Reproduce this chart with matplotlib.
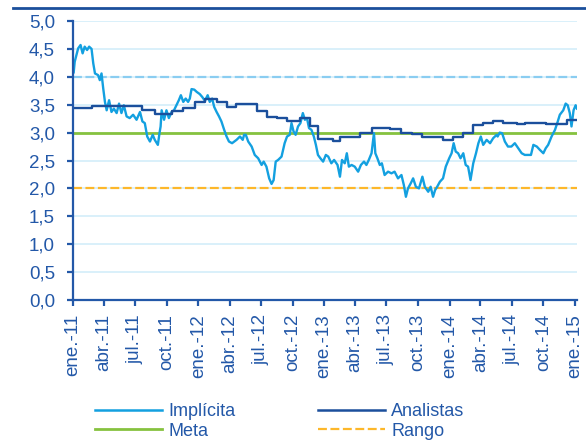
import matplotlib
matplotlib.use("Agg")
import matplotlib.pyplot as plt
import matplotlib.dates as mdates
from matplotlib.lines import Line2D
import pandas as pd

plt.rcParams['font.family'] = ['Liberation Sans', 'DejaVu Sans']

# ---------------- data ----------------
impl_dates = [
    "2011-01-03", "2011-01-06", "2011-01-16", "2011-01-23", "2011-01-29", "2011-02-04", "2011-02-11",
    "2011-02-17", "2011-02-24", "2011-03-01", "2011-03-06", "2011-03-15", "2011-03-20", "2011-03-25",
    "2011-03-30", "2011-04-04", "2011-04-09", "2011-04-16", "2011-04-23", "2011-04-30", "2011-05-08",
    "2011-05-15", "2011-05-22", "2011-05-29", "2011-06-06", "2011-06-15", "2011-06-25", "2011-07-05",
    "2011-07-15", "2011-07-22", "2011-07-29", "2011-08-05", "2011-08-13", "2011-08-21", "2011-08-27",
    "2011-09-05", "2011-09-10", "2011-09-13", "2011-09-16", "2011-09-23", "2011-09-30", "2011-10-07",
    "2011-10-15", "2011-10-22", "2011-10-29", "2011-11-05", "2011-11-11", "2011-11-18", "2011-11-25",
    "2011-12-02", "2011-12-07", "2011-12-12", "2011-12-20", "2011-12-27", "2012-01-05", "2012-01-12",
    "2012-01-20", "2012-01-28", "2012-02-03", "2012-02-10", "2012-02-16", "2012-02-23", "2012-03-01",
    "2012-03-08", "2012-03-16", "2012-03-23", "2012-03-30", "2012-04-08", "2012-04-21", "2012-05-01",
    "2012-05-09", "2012-05-13", "2012-05-18", "2012-05-25", "2012-06-04", "2012-06-13", "2012-06-23",
    "2012-07-03", "2012-07-09", "2012-07-17", "2012-07-25", "2012-08-01", "2012-08-07", "2012-08-13",
    "2012-08-20", "2012-08-30", "2012-09-08", "2012-09-15", "2012-09-23", "2012-09-28", "2012-10-04",
    "2012-10-10", "2012-10-17", "2012-10-24", "2012-10-31", "2012-11-06", "2012-11-12", "2012-11-18",
    "2012-11-25", "2012-12-02", "2012-12-08", "2012-12-14", "2012-12-21", "2012-12-29", "2013-01-06",
    "2013-01-13", "2013-01-22", "2013-01-30", "2013-02-09", "2013-02-16", "2013-02-22", "2013-03-02",
    "2013-03-08", "2013-03-14", "2013-03-22", "2013-03-31", "2013-04-10", "2013-04-18", "2013-04-27",
    "2013-05-04", "2013-05-11", "2013-05-19", "2013-05-26", "2013-05-30", "2013-06-05", "2013-06-12",
    "2013-06-18", "2013-06-26", "2013-07-06", "2013-07-16", "2013-07-25", "2013-08-04", "2013-08-14",
    "2013-08-21", "2013-08-27", "2013-09-02", "2013-09-10", "2013-09-17", "2013-09-25", "2013-10-04",
    "2013-10-14", "2013-10-21", "2013-10-31", "2013-11-07", "2013-11-14", "2013-11-20", "2013-11-26",
    "2013-12-04", "2013-12-13", "2013-12-21", "2013-12-31", "2014-01-07", "2014-01-13", "2014-01-19",
    "2014-01-26", "2014-02-02", "2014-02-10", "2014-02-17", "2014-02-24", "2014-03-03", "2014-03-11",
    "2014-03-19", "2014-03-26", "2014-04-02", "2014-04-09", "2014-04-19", "2014-04-29", "2014-05-08",
    "2014-05-18", "2014-05-21", "2014-05-27", "2014-06-03", "2014-06-11", "2014-06-20", "2014-06-30",
    "2014-07-10", "2014-07-20", "2014-07-30", "2014-08-08", "2014-08-18", "2014-08-26", "2014-09-02",
    "2014-09-12", "2014-09-21", "2014-10-01", "2014-10-08", "2014-10-15", "2014-10-25", "2014-11-04",
    "2014-11-12", "2014-11-18", "2014-11-28", "2014-12-05", "2014-12-11", "2014-12-17", "2014-12-22",
    "2014-12-28", "2015-01-03", "2015-01-07",
]
impl_values = [
    4.08, 4.27, 4.51, 4.57, 4.42, 4.54, 4.48,
    4.54, 4.50, 4.24, 4.06, 4.03, 3.94, 4.06,
    3.79, 3.55, 3.40, 3.58, 3.37, 3.43, 3.35,
    3.52, 3.35, 3.49, 3.29, 3.26, 3.32, 3.23,
    3.37, 3.20, 3.17, 2.93, 2.84, 2.96, 2.87,
    2.78, 3.00, 3.11, 3.40, 3.23, 3.40, 3.26,
    3.37, 3.40, 3.49, 3.58, 3.67, 3.55, 3.61,
    3.55, 3.61, 3.78, 3.77, 3.73, 3.69, 3.64,
    3.57, 3.67, 3.55, 3.61, 3.46, 3.37, 3.29,
    3.20, 3.05, 2.93, 2.84, 2.81, 2.87, 2.93,
    2.87, 2.96, 2.96, 2.84, 2.75, 2.60, 2.54,
    2.42, 2.48, 2.39, 2.18, 2.08, 2.15, 2.48,
    2.51, 2.57, 2.81, 2.93, 2.96, 3.17, 3.02,
    2.96, 3.11, 3.17, 3.35, 3.23, 3.26, 3.08,
    3.05, 2.93, 2.78, 2.60, 2.54, 2.48, 2.60,
    2.57, 2.45, 2.51, 2.42, 2.21, 2.51, 2.45,
    2.63, 2.39, 2.42, 2.39, 2.30, 2.42, 2.48,
    2.42, 2.51, 2.63, 2.99, 2.63, 2.54, 2.42,
    2.45, 2.24, 2.30, 2.27, 2.30, 2.18, 2.24,
    2.06, 1.85, 2.00, 2.09, 2.18, 2.03, 2.00,
    2.21, 2.03, 1.94, 2.03, 1.85, 1.97, 2.03,
    2.12, 2.18, 2.39, 2.54, 2.63, 2.81, 2.66,
    2.63, 2.54, 2.63, 2.42, 2.39, 2.15, 2.45,
    2.63, 2.81, 2.93, 2.78, 2.87, 2.81, 2.90,
    2.96, 2.93, 3.00, 2.99, 2.84, 2.75, 2.75,
    2.81, 2.72, 2.63, 2.60, 2.60, 2.60, 2.78,
    2.75, 2.69, 2.63, 2.72, 2.78, 2.93, 3.05,
    3.20, 3.32, 3.40, 3.52, 3.49, 3.35, 3.11,
    3.40, 3.49, 3.43,
]

anal_dates = [
    "2011-01-01", "2011-02-25", "2011-07-20", "2011-08-28", "2011-10-16", "2011-11-17",
    "2011-12-22", "2012-01-20", "2012-02-24", "2012-03-24", "2012-04-19", "2012-06-19",
    "2012-07-19", "2012-08-17", "2012-09-15", "2012-10-23", "2012-11-21", "2012-12-14",
    "2013-01-27", "2013-02-16", "2013-04-15", "2013-05-19", "2013-07-11", "2013-08-14",
    "2013-09-13", "2013-10-12", "2013-12-14", "2014-01-12", "2014-02-10", "2014-03-11",
    "2014-04-09", "2014-05-08", "2014-06-06", "2014-07-15", "2014-08-08", "2014-10-10",
    "2014-12-08", "2015-01-07",
]
anal_values = [
    3.44, 3.48, 3.41, 3.33, 3.38, 3.44,
    3.55, 3.61, 3.55, 3.46, 3.52, 3.39,
    3.28, 3.26, 3.21, 3.26, 3.12, 2.88,
    2.85, 2.92, 3.00, 3.09, 3.06, 3.00,
    2.97, 2.93, 2.86, 2.92, 3.00, 3.14,
    3.18, 3.20, 3.17, 3.16, 3.17, 3.15,
    3.22, 3.22,
]

meta_value = 3.0
rango_low = 2.0
rango_high = 4.0

tick_dates = ["2011-01-01", "2011-04-01", "2011-07-01", "2011-10-01",
              "2012-01-01", "2012-04-01", "2012-07-01", "2012-10-01",
              "2013-01-01", "2013-04-01", "2013-07-01", "2013-10-01",
              "2014-01-01", "2014-04-01", "2014-07-01", "2014-10-01",
              "2015-01-01"]
tick_labels = ["ene.-11", "abr.-11", "jul.-11", "oct.-11",
               "ene.-12", "abr.-12", "jul.-12", "oct.-12",
               "ene.-13", "abr.-13", "jul.-13", "oct.-13",
               "ene.-14", "abr.-14", "jul.-14", "oct.-14",
               "ene.-15"]
y_ticks = [0.0, 0.5, 1.0, 1.5, 2.0, 2.5, 3.0, 3.5, 4.0, 4.5, 5.0]
x_start = "2011-01-01"
x_end = "2015-01-07"

# ---------------- style ----------------
C_IMPL = "#13A0E0"
C_ANAL = "#1B4F9C"
C_META = "#86C23F"
C_RANGO = "#FDB72A"
C_RHIGH = "#8ACDF1"
C_GRID = "#D3EDFA"
C_AXIS = "#2358A8"

fig = plt.figure(figsize=(5.86, 4.41), dpi=100)
ax = fig.add_axes([73/586, 1-300/441, (577-73)/586, (300-21)/441])

idates = pd.to_datetime(impl_dates)
adates = pd.to_datetime(anal_dates)

for yv in y_ticks[1:]:
    ax.axhline(yv, color=C_GRID, lw=1.2, zorder=1)

ax.axhline(rango_high, color=C_RHIGH, lw=1.6, ls=(0, (4, 1.6)), zorder=2)
ax.axhline(rango_low, color=C_RANGO, lw=1.6, ls=(0, (4, 1.6)), zorder=2)
ax.axhline(meta_value, color=C_META, lw=2.0, zorder=2)

ax.plot(idates, impl_values, color=C_IMPL, lw=1.7, zorder=3)
ax.plot(adates, anal_values, color=C_ANAL, lw=1.7, drawstyle='steps-post', zorder=4)

ax.set_xlim(pd.Timestamp(x_start), pd.Timestamp(x_end))
ax.set_ylim(0, 5)

ax.set_xticks(pd.to_datetime(tick_dates))
ax.set_xticklabels(tick_labels, rotation=90, fontsize=13.5, color=C_AXIS)
ax.set_yticks(y_ticks)
ax.set_yticklabels([f"{v:.1f}".replace('.', ',') for v in y_ticks], fontsize=13.5, color=C_AXIS)

for s in ['top', 'right']:
    ax.spines[s].set_visible(False)
for s in ['left', 'bottom']:
    ax.spines[s].set_color(C_AXIS)
    ax.spines[s].set_linewidth(1.6)
    ax.spines[s].set_zorder(5)
ax.tick_params(axis='x', direction='out', length=4, width=1.6, color=C_AXIS, pad=6)
ax.tick_params(axis='y', direction='out', length=4, width=1.6, color=C_AXIS, pad=9)

# decorative top rule
fig.add_artist(Line2D([13/586, 1.0], [1-8/441, 1-8/441], transform=fig.transFigure,
                      color=C_ANAL, lw=2.0))

handles = [
    Line2D([], [], color=C_IMPL, lw=1.8),
    Line2D([], [], color=C_META, lw=2.0),
    Line2D([], [], color=C_ANAL, lw=1.8),
    Line2D([], [], color=C_RANGO, lw=1.6, ls=(0, (4, 1.6))),
]
labels = ["Implícita", "Meta", "Analistas", "Rango"]
leg = fig.legend(handles, labels, ncol=2, loc='upper left',
                 bbox_to_anchor=(95/586, 1-403/441), bbox_transform=fig.transFigure,
                 frameon=False, fontsize=13, handlelength=3.7, handletextpad=0.35,
                 columnspacing=4.6, labelspacing=0.15, borderpad=0, borderaxespad=0)
for t in leg.get_texts():
    t.set_color(C_AXIS)

fig.savefig("out.png", dpi=100)
